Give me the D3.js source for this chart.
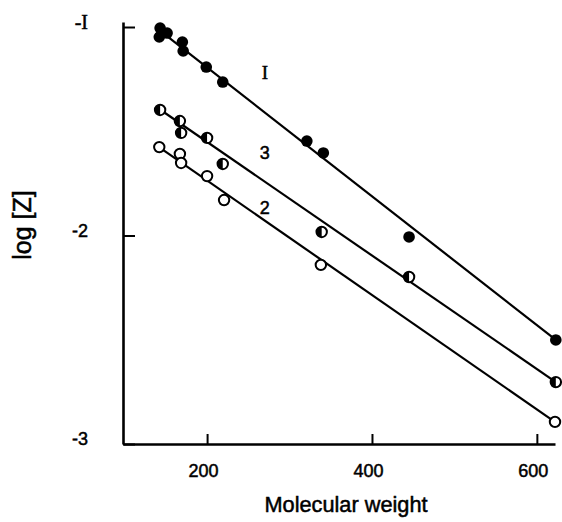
<!DOCTYPE html>
<html>
<head>
<meta charset="utf-8">
<script src="https://cdn.jsdelivr.net/npm/d3@7"></script>
<style>
  html, body { margin: 0; padding: 0; background: #fff; }
  svg { display: block; font-family: "Liberation Sans", Arial, Helvetica, sans-serif; }
</style>
</head>
<body>
<svg id="chart" width="562" height="522"></svg>
<script>
// ---- data ----
const xTicks = [200, 400, 600];
const yTicks = [-1, -2, -3];
const yTickLabels = ["-I", "-2", "-3"];

// series I (filled circles)
const mw1   = [143, 142, 151.5, 170, 171, 199, 219, 321, 341, 445, 623];
const logZ1 = [-1.005, -1.048, -1.029, -1.072, -1.115, -1.192, -1.264, -1.547, -1.604, -2.007, -2.501];
// series 3 (half-filled circles)
const mw3   = [143, 167, 168.5, 200, 219, 339, 445, 623];
const logZ3 = [-1.398, -1.451, -1.508, -1.532, -1.657, -1.983, -2.199, -2.703];
// series 2 (open circles)
const mw2   = [142, 167, 168.5, 200, 220.6, 338, 622];
const logZ2 = [-1.576, -1.609, -1.652, -1.715, -1.830, -2.141, -2.894];

// fitted straight lines (end points)
const fit1MW = [146.7, 623],  fit1LogZ = [-1.029, -2.501];
const fit3MW = [145.5, 623],  fit3LogZ = [-1.403, -2.703];
const fit2MW = [143, 621.8],  fit2LogZ = [-1.580, -2.894];

// curve labels
const curveLabels = ["I", "3", "2"];
const curveLabelMW = [270, 270, 270];
const curveLabelLogZ = [-1.216, -1.604, -1.866];

// ---- drawing ----
const svg = d3.select("#chart");
const x = d3.scaleLinear().domain([98, 622]).range([123, 555]);
const y = d3.scaleLinear().domain([-3, -0.976]).range([444, 22]);

// axes
const xAxis = d3.axisBottom(x).tickValues(xTicks).tickSizeInner(-10).tickSizeOuter(0).tickPadding(20);
const gx = svg.append("g").attr("transform", `translate(0,${y(-3)})`).call(xAxis);
const yAxis = d3.axisLeft(y).tickValues(yTicks).tickSizeInner(-12).tickSizeOuter(0).tickPadding(35)
  .tickFormat((d, i) => yTickLabels[i]);
const gy = svg.append("g").attr("transform", `translate(${x(98)},0)`).call(yAxis);

[gx, gy].forEach(g => {
  g.select(".domain").attr("stroke", "#000").attr("stroke-width", 2.6);
  g.selectAll(".tick line").attr("stroke", "#000").attr("stroke-width", 2);
  g.selectAll(".tick text").attr("fill", "#000").attr("font-size", 18)
    .attr("stroke", "#000").attr("stroke-width", 0.5)
    .attr("font-family", "'Liberation Sans', Arial, sans-serif");
});
gx.selectAll(".tick text").attr("dx", -4);
gy.selectAll(".tick text").attr("dy", "0.05em")
  .attr("font-family", (d) => d === -1 ? "'Liberation Serif', serif" : "'Liberation Sans', Arial, sans-serif")
  .attr("font-size", (d) => d === -1 ? 20 : 18);

// axis titles
svg.append("text")
  .attr("x", 346).attr("y", 512)
  .attr("text-anchor", "middle")
  .attr("font-size", 22)
  .attr("stroke", "#000").attr("stroke-width", 0.5)
  .attr("textLength", 163).attr("lengthAdjust", "spacingAndGlyphs")
  .text("Molecular weight");

svg.append("text")
  .attr("transform", "translate(31,225) rotate(-90)")
  .attr("text-anchor", "middle")
  .attr("font-size", 25)
  .attr("stroke", "#000").attr("stroke-width", 0.5)
  .text("log [Z]");

// fitted lines
const line = d3.line().x(d => x(d[0])).y(d => y(d[1]));
[[fit1MW, fit1LogZ], [fit3MW, fit3LogZ], [fit2MW, fit2LogZ]].forEach(([mx, my]) => {
  svg.append("path")
    .datum(mx.map((v, i) => [v, my[i]]))
    .attr("d", line)
    .attr("fill", "none")
    .attr("stroke", "#000")
    .attr("stroke-width", 2.2);
});

const r = 5.8;
// series 2: open
svg.append("g").selectAll("circle")
  .data(mw2.map((v, i) => [v, logZ2[i]]))
  .join("circle")
  .attr("cx", d => x(d[0])).attr("cy", d => y(d[1])).attr("r", r - 0.6)
  .attr("fill", "#fff").attr("stroke", "#000").attr("stroke-width", 2);

// series 3: half filled
const halfArc = d3.arc().innerRadius(0).outerRadius(r - 0.6).startAngle(Math.PI).endAngle(2 * Math.PI);
const g3 = svg.append("g").selectAll("g")
  .data(mw3.map((v, i) => [v, logZ3[i]]))
  .join("g")
  .attr("transform", d => `translate(${x(d[0])},${y(d[1])})`);
g3.append("circle").attr("r", r - 0.6).attr("fill", "#fff").attr("stroke", "#000").attr("stroke-width", 2);
g3.append("path").attr("d", halfArc).attr("fill", "#000");

// series I: filled
svg.append("g").selectAll("circle")
  .data(mw1.map((v, i) => [v, logZ1[i]]))
  .join("circle")
  .attr("cx", d => x(d[0])).attr("cy", d => y(d[1])).attr("r", r)
  .attr("fill", "#000");

// curve labels
svg.append("g").selectAll("text")
  .data(curveLabels)
  .join("text")
  .attr("x", (d, i) => x(curveLabelMW[i]))
  .attr("y", (d, i) => y(curveLabelLogZ[i]))
  .attr("dy", "0.35em")
  .attr("text-anchor", "middle")
  .attr("font-size", (d) => d === "I" ? 19 : 18)
  .attr("stroke", "#000").attr("stroke-width", 0.5)
  .attr("font-family", (d) => d === "I" ? "'Liberation Serif', serif" : "'Liberation Sans', Arial, sans-serif")
  .text(d => d);
</script>
</body>
</html>
